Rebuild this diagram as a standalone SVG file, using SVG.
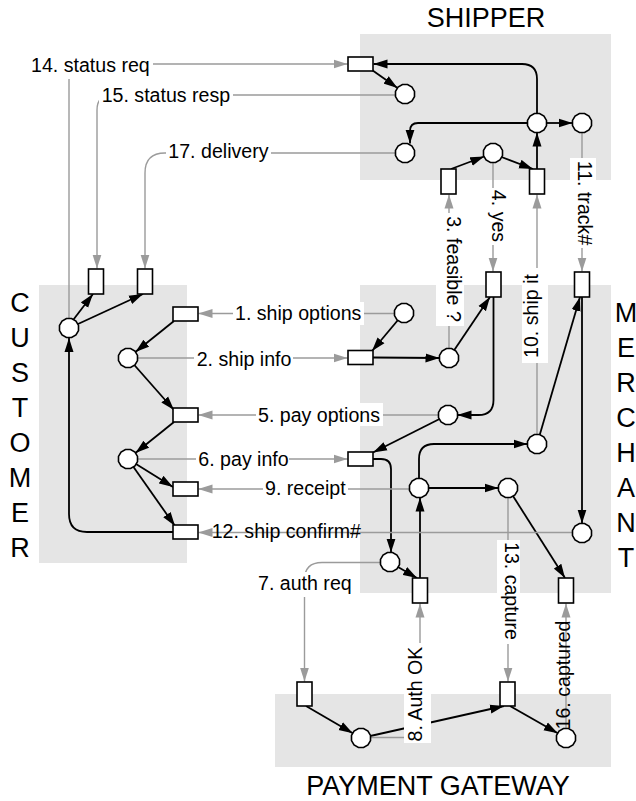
<svg xmlns="http://www.w3.org/2000/svg" xmlns:xlink="http://www.w3.org/1999/xlink" width="636" height="801" viewBox="0 0 636 801">
<style>
.panel{fill:#e5e5e5}
.n{fill:#fff;stroke:#000;stroke-width:1.6}
.e{fill:none;stroke:#000;stroke-width:1.8;marker-end:url(#ab)}
.m{fill:none;stroke:#9b9b9b;stroke-width:1.4;marker-end:url(#ag)}
.lb{fill:#fff}
text{font-family:"Liberation Sans",Arial,Helvetica,sans-serif;fill:#000}
.t{font-size:19.6px}
.v{font-size:19.6px;text-anchor:middle}
.h{font-size:27px;text-anchor:middle}
</style>
<defs>
<marker id="ab" markerUnits="userSpaceOnUse" markerWidth="14" markerHeight="10" viewBox="0 0 14 10" refX="14" refY="5" orient="auto"><path d="M0,0.5 L14,5 L0,9.5 z" fill="#000"/></marker>
<marker id="ag" markerUnits="userSpaceOnUse" markerWidth="14" markerHeight="10" viewBox="0 0 14 10" refX="14" refY="5" orient="auto"><path d="M0,0.5 L14,5 L0,9.5 z" fill="#9b9b9b"/></marker>
<polygon id="oct" class="n" points="9.5,2.55 6.95,6.95 2.55,9.5 -2.55,9.5 -6.95,6.95 -9.5,2.55 -9.5,-2.55 -6.95,-6.95 -2.55,-9.5 2.55,-9.5 6.95,-6.95 9.5,-2.55"/>
</defs>

<g id="panels">
<rect class="panel" x="360" y="34" width="251" height="146"/>
<rect class="panel" x="39" y="285" width="148" height="278"/>
<rect class="panel" x="360" y="285" width="251" height="308"/>
<rect class="panel" x="275" y="694" width="336" height="73"/>
</g>

<g id="titles">
<text class="h" x="486" y="27">SHIPPER</text>
<text class="h" x="438" y="795">PAYMENT GATEWAY</text>
<text class="h" x="20" y="312">C</text>
<text class="h" x="20" y="347">U</text>
<text class="h" x="20" y="382">S</text>
<text class="h" x="20" y="417">T</text>
<text class="h" x="20" y="452">O</text>
<text class="h" x="20" y="487">M</text>
<text class="h" x="20" y="522">E</text>
<text class="h" x="20" y="557">R</text>
<text class="h" x="626" y="322">M</text>
<text class="h" x="626" y="357">E</text>
<text class="h" x="626" y="392">R</text>
<text class="h" x="626" y="427">C</text>
<text class="h" x="626" y="462">H</text>
<text class="h" x="626" y="497">A</text>
<text class="h" x="626" y="532">N</text>
<text class="h" x="626" y="567">T</text>
</g>

<g id="connectors">
<path class="e" d="M537,113.5 V79 Q537,64 522,64 H373.5"/>
<path class="e" d="M372,70 L397.5,88"/>
<path class="e" d="M527.5,123 H418 Q410,123 410,131 V143.6"/>
<path class="e" d="M546.5,123 H572.5"/>
<path class="e" d="M537,169 V132.5"/>
<path class="e" d="M451,169 L484.2,156.5"/>
<path class="e" d="M501.5,157 L533,169"/>
<path class="e" d="M73.5,319.5 L93,294"/>
<path class="e" d="M78,324 L143,294"/>
<path class="e" d="M174,321 L135.4,352"/>
<path class="e" d="M134.3,365 L174,410"/>
<path class="e" d="M174,422 L135.4,453"/>
<path class="e" d="M136,464 L173,487"/>
<path class="e" d="M133.5,467 L175,526"/>
<path class="e" d="M173,532 H87 Q69,532 69,514 V338"/>
<path class="e" d="M398,320 L372,351"/>
<path class="e" d="M373,357.5 L439.5,358"/>
<path class="e" d="M454.3,350 L490,297"/>
<path class="e" d="M493.5,297 V400 Q493.5,415 478.5,415 H457.5"/>
<path class="e" d="M439.5,419 L373,452.5"/>
<path class="e" d="M373,459 H381 Q391,459 391,469 V552.6"/>
<path class="e" d="M398,567 L417,578"/>
<path class="e" d="M420,578 V497.5"/>
<path class="e" d="M419,478.5 V459 Q419,444 434,444 H527.5"/>
<path class="e" d="M428.5,488 H498.5"/>
<path class="e" d="M513,496 L565,578"/>
<path class="e" d="M539.7,435 L580,297"/>
<path class="e" d="M582,297 V523.5"/>
<path class="e" d="M306,706 L352.8,733.2"/>
<path class="e" d="M370.3,736 L504,706"/>
<path class="e" d="M510,706 L557.8,733.3"/>

<path class="m" d="M394.6,313.5 H198.5"/>
<path class="m" d="M137.5,358 H347.5"/>
<path class="m" d="M449,348.6 V194.5"/>
<path class="m" d="M493,162.5 V271.5"/>
<path class="m" d="M438.6,415 H198.5"/>
<path class="m" d="M137.5,459 H347.5"/>
<path class="m" d="M380.6,562.5 H322 Q304.5,562.5 304.5,580 V681.5"/>
<path class="m" d="M370.5,737.5 H420 V603.5"/>
<path class="m" d="M409.6,489 H198.5"/>
<path class="m" d="M537,434.6 V194.5"/>
<path class="m" d="M582,132.5 V271.5"/>
<path class="m" d="M572.6,532.5 H198.5"/>
<path class="m" d="M508,497.5 V681.5"/>
<path class="m" d="M69,318.6 V80 Q69,64 85,64 H347.5"/>
<path class="m" d="M395.6,95 H112 Q97,95 97,110 V268.5"/>
<path class="m" d="M566,728.6 V603.5"/>
<path class="m" d="M395.6,153 H165 Q145,153 145,173 V268.5"/>
</g>

<g id="labels">
<g id="l1"><rect class="lb" x="233" y="302" width="131" height="23"/><text class="t" x="235" y="320">1. ship options</text></g>
<g id="l2"><rect class="lb" x="194" y="347" width="99" height="23"/><text class="t" x="196.7" y="365.7">2. ship info</text></g>
<g id="l3"><rect class="lb" x="436" y="213" width="28" height="113"/><text class="v" transform="translate(447,269) rotate(90)">3. feasible ?</text></g>
<g id="l4"><rect class="lb" x="486" y="188" width="20" height="57"/><text class="v" transform="translate(492,216) rotate(90)">4. yes</text></g>
<g id="l5"><rect class="lb" x="256" y="403" width="127" height="23"/><text class="t" x="258" y="421.7">5. pay options</text></g>
<g id="l6"><rect class="lb" x="196" y="448" width="93" height="23"/><text class="t" x="198.3" y="466">6. pay info</text></g>
<g id="l7"><rect class="lb" x="256" y="572" width="99" height="25"/><text class="t" x="258" y="590">7. auth req</text></g>
<g id="l8"><rect class="lb" x="404" y="643" width="27" height="100"/><text class="v" transform="translate(422,694) rotate(-90)">8. Auth OK</text></g>
<g id="l9"><rect class="lb" x="263" y="477" width="85" height="23"/><text class="t" x="265" y="495">9. receipt</text></g>
<g id="l10"><rect class="lb" x="522" y="268" width="26" height="95"/><text class="v" transform="translate(538,316) rotate(-90)">10. ship it</text></g>
<g id="l11"><rect class="lb" x="570" y="158" width="26" height="90"/><text class="v" transform="translate(578,203) rotate(90)">11. track#</text></g>
<g id="l12"><text class="t" x="211.7" y="538.3">12. ship confirm#</text></g>
<g id="l13"><rect class="lb" x="497" y="540" width="23" height="104"/><text class="v" transform="translate(505,591) rotate(90)">13. capture</text></g>
<g id="l14"><rect class="lb" x="29" y="52" width="124" height="27"/><text class="t" x="31" y="71.7">14. status req</text></g>
<g id="l15"><rect class="lb" x="99" y="83" width="134" height="22"/><text class="t" x="101.7" y="101.7">15. status resp</text></g>
<g id="l16"><text class="v" transform="translate(570,675) rotate(-90)">16. captured</text></g>
<g id="l17"><rect class="lb" x="166" y="140" width="105" height="23"/><text class="t" x="168.3" y="158.3">17. delivery</text></g>
</g>

<g id="S_t1"><rect class="n" x="348" y="57" width="25" height="14"/></g>
<g id="S_p1"><use xlink:href="#oct" x="405" y="94"/></g>
<g id="S_p2"><use xlink:href="#oct" x="405" y="153"/></g>
<g id="S_p3"><use xlink:href="#oct" x="537" y="123"/></g>
<g id="S_p4"><use xlink:href="#oct" x="582" y="123"/></g>
<g id="S_p5"><use xlink:href="#oct" x="493" y="153"/></g>
<g id="S_t2"><rect class="n" x="441" y="169" width="15" height="25"/></g>
<g id="S_t3"><rect class="n" x="529.5" y="169" width="15" height="25"/></g>

<g id="C_p1"><use xlink:href="#oct" x="69" y="328"/></g>
<g id="C_t1"><rect class="n" x="88.5" y="269" width="15" height="25"/></g>
<g id="C_t2"><rect class="n" x="137.5" y="269" width="15" height="25"/></g>
<g id="C_t3"><rect class="n" x="173" y="307" width="25" height="14"/></g>
<g id="C_p2"><use xlink:href="#oct" x="128" y="358"/></g>
<g id="C_t4"><rect class="n" x="173" y="408" width="25" height="14"/></g>
<g id="C_p3"><use xlink:href="#oct" x="128" y="459"/></g>
<g id="C_t5"><rect class="n" x="173" y="482" width="25" height="14"/></g>
<g id="C_t6"><rect class="n" x="173" y="525" width="25" height="14"/></g>

<g id="M_p1"><use xlink:href="#oct" x="404" y="313"/></g>
<g id="M_t1"><rect class="n" x="348" y="350.5" width="25" height="14"/></g>
<g id="M_p2"><use xlink:href="#oct" x="449" y="358"/></g>
<g id="M_t2"><rect class="n" x="486" y="272" width="15" height="25"/></g>
<g id="M_t3"><rect class="n" x="574.5" y="272" width="15" height="25"/></g>
<g id="M_p3"><use xlink:href="#oct" x="448" y="415"/></g>
<g id="M_t4"><rect class="n" x="348" y="452" width="25" height="14"/></g>
<g id="M_p4"><use xlink:href="#oct" x="537" y="444"/></g>
<g id="M_p5"><use xlink:href="#oct" x="419" y="488"/></g>
<g id="M_p6"><use xlink:href="#oct" x="508" y="488"/></g>
<g id="M_p7"><use xlink:href="#oct" x="582" y="533"/></g>
<g id="M_p8"><use xlink:href="#oct" x="390" y="562"/></g>
<g id="M_t5"><rect class="n" x="412.5" y="578" width="15" height="25"/></g>
<g id="M_t6"><rect class="n" x="558.5" y="578" width="15" height="25"/></g>

<g id="P_t1"><rect class="n" x="297" y="682" width="15" height="24"/></g>
<g id="P_p1"><use xlink:href="#oct" x="361" y="738"/></g>
<g id="P_t2"><rect class="n" x="500" y="682" width="15" height="24"/></g>
<g id="P_p2"><use xlink:href="#oct" x="566" y="738"/></g>
</svg>
